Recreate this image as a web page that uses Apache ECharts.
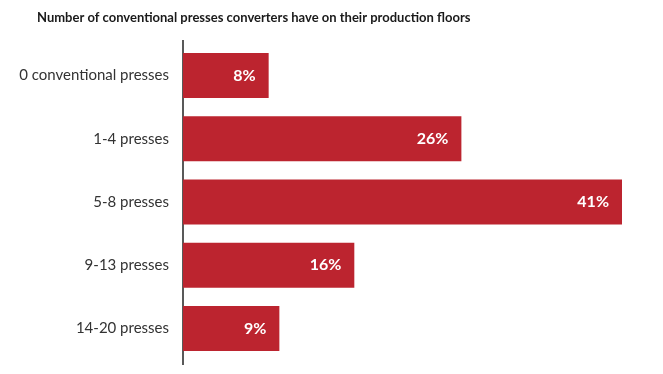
<!DOCTYPE html>
<html><head><meta charset="utf-8">
<script src="https://cdn.jsdelivr.net/npm/echarts@6/dist/echarts.min.js"></script>
<style>html,body{margin:0;padding:0;background:#fff}#c{width:663px;height:374px}</style>
</head><body><div id="c"></div>
<script>
const categories = ['0 conventional presses','1-4 presses','5-8 presses','9-13 presses','14-20 presses'];
const values = [8, 26, 41, 16, 9];
const titleText = 'Number of conventional presses converters have on their production floors';

const chart = echarts.init(document.getElementById('c'));
chart.setOption({
  animation: false,
  title: {
    text: titleText, left: 32, top: 6,
    textStyle: {fontFamily: 'Lato', fontWeight: 'bold', fontSize: 13, color: '#1a1a1a'}
  },
  grid: {left: 183, right: 41, top: 44, bottom: 14},
  xAxis: {type: 'value', min: 0, max: 41, show: false},
  yAxis: {
    type: 'category', data: categories, inverse: true,
    axisLine: {show: false}, axisTick: {show: false},
    axisLabel: {fontFamily: 'Lato', fontSize: 15, color: '#333', margin: 14}
  },
  graphic: [{type: 'line', shape: {x1: 183, y1: 40, x2: 183, y2: 365}, style: {stroke: '#222', lineWidth: 1.5}}],
  series: [{
    type: 'bar', data: values, barWidth: 45,
    itemStyle: {color: '#BC242F'},
    label: {
      show: true, position: 'insideRight', distance: 13,
      formatter: p => p.value + '%',
      fontFamily: 'Lato', fontWeight: 'bold', fontSize: 16, color: '#fff'
    }
  }]
});
</script></body></html>
